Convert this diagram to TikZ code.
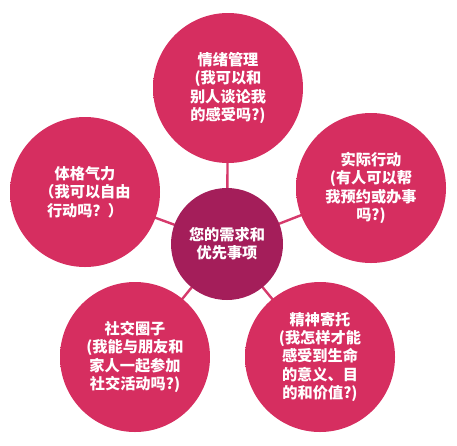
\documentclass[tikz,border=0pt]{standalone}
\usepackage{fontspec}
\newfontfamily\cjk{Noto Sans CJK SC}
\usetikzlibrary{backgrounds}
\definecolor{cin}{RGB}{214,46,96}
\definecolor{cout}{RGB}{196,26,78}
\definecolor{hubc}{RGB}{164,30,90}
\definecolor{linkc}{RGB}{214,58,108}
\pgfdeclareradialshading{ballshade}{\pgfpoint{0bp}{0bp}}{color(0bp)=(cin); color(38bp)=(cin); color(50bp)=(cout)}
\tikzset{
  ball/.style={circle, minimum size=150pt, inner sep=0pt, shading=ballshade, text=white, align=center,
    font=\cjk\bfseries\fontsize{15.2pt}{18.4pt}\selectfont},
  hub/.style={circle, minimum size=112pt, inner sep=0pt, fill=hubc, text=white, align=center,
    font=\cjk\bfseries\fontsize{15.2pt}{18.4pt}\selectfont},
  link/.style={draw=linkc, line width=2.4pt}
}
\begin{document}
\begin{tikzpicture}[x=1pt,y=-1pt]
\useasboundingbox (0,0) rectangle (457,445);
\node[hub] (hub) at (227,244) {您的需求和\\优先事项};
\node[ball] (emo) at (228,88) {情绪管理\\(我可以和\\别人谈论我\\的感受吗?)};
\node[ball] (phys) at (85,192) {体格气力\\（我可以自由\\行动吗？）};
\node[ball] (prac) at (371,188) {实际行动\\(有人可以帮\\我预约或办事\\吗?)};
\node[ball] (soc) at (135,357) {社交圈子\\(我能与朋友和\\家人一起参加\\社交活动吗?)};
\node[ball] (spir) at (320,357) {精神寄托\\(我怎样才能\\感受到生命\\的意义、目\\的和价值?)};
\begin{pgfonlayer}{background}
\draw[link] (hub.center) -- (emo.center);
\draw[link] (hub.center) -- (phys.center);
\draw[link] (hub.center) -- (prac.center);
\draw[link] (hub.center) -- (soc.center);
\draw[link] (hub.center) -- (spir.center);
\end{pgfonlayer}
\end{tikzpicture}
\end{document}
